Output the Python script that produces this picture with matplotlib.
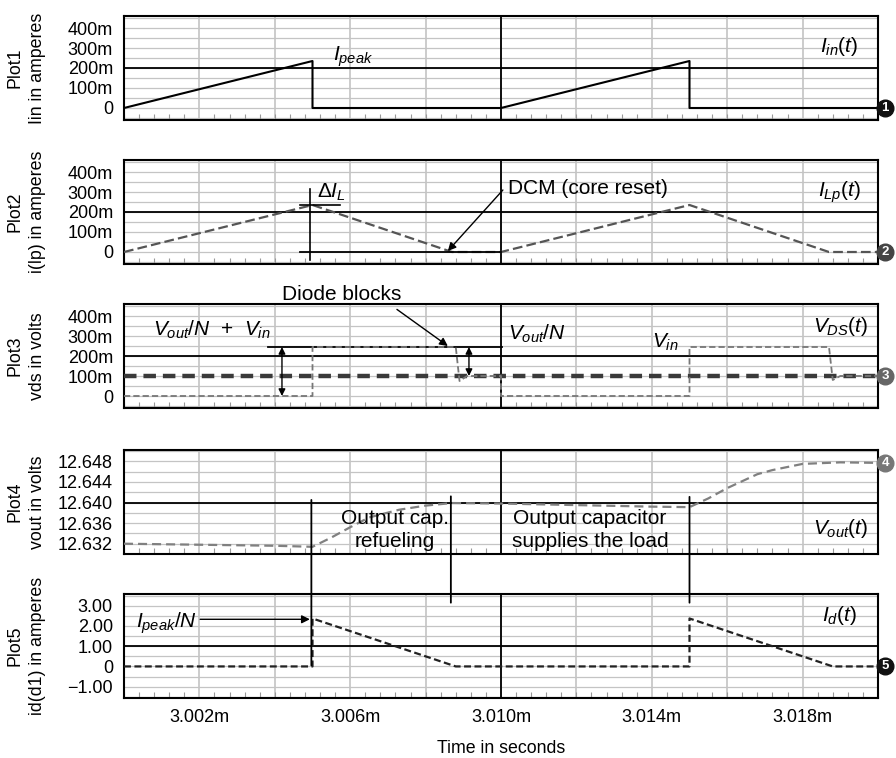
import numpy as np
import matplotlib
matplotlib.use("Agg")
import matplotlib.pyplot as plt
from matplotlib.patches import ConnectionPatch

plt.rcParams["font.family"] = ["Liberation Sans", "DejaVu Sans"]
plt.rcParams["mathtext.fontset"] = "custom"
plt.rcParams["mathtext.rm"] = "Liberation Sans"
plt.rcParams["mathtext.it"] = "Liberation Sans:italic"
plt.rcParams["lines.scale_dashes"] = False

# time axis in ms
t_in = [3.000, 3.005, 3.005, 3.010, 3.015, 3.015, 3.020]
i_in = [0.0, 0.235, 0.0, 0.0, 0.235, 0.0, 0.0]

t_lp = [3.000, 3.005, 3.0087, 3.010, 3.015, 3.0187, 3.020]
i_lp = [0.0, 0.235, 0.0, 0.0, 0.235, 0.0, 0.0]

t_ds = [3.000, 3.005, 3.005, 3.0088, 3.0089, 3.0091, 3.010, 3.010,
        3.015, 3.015, 3.0187, 3.0188, 3.0190, 3.020]
v_ds = [0.0, 0.0, 0.245, 0.245, 0.075, 0.10, 0.10, 0.0,
        0.0, 0.245, 0.245, 0.08, 0.10, 0.10]
t_vin = [3.000, 3.020]
v_in = [0.10, 0.10]

t_out = [3.000, 3.002, 3.004, 3.005, 3.0055, 3.006, 3.0065, 3.0073, 3.008,
         3.0087, 3.010, 3.012, 3.014, 3.015, 3.0155, 3.016, 3.0168, 3.0172,
         3.018, 3.019, 3.020]
v_out = [12.6320, 12.6318, 12.6316, 12.6314, 12.6332, 12.6352, 12.6371,
         12.6386, 12.6394, 12.6399, 12.6398, 12.6395, 12.6392, 12.6391,
         12.6408, 12.6428, 12.6455, 12.6463, 12.6475, 12.6478, 12.6477]

t_d = [3.000, 3.005, 3.005, 3.0088, 3.015, 3.015, 3.0188, 3.020]
i_d = [0.0, 0.0, 2.37, 0.0, 0.0, 2.37, 0.0, 0.0]

x_grid = [3.000, 3.002, 3.004, 3.006, 3.008, 3.010, 3.012, 3.014, 3.016, 3.018, 3.020]
x_labels = ["3.002m", "3.006m", "3.010m", "3.014m", "3.018m"]
x_label_pos = [3.002, 3.006, 3.010, 3.014, 3.018]

milli_ticks = [0.0, 0.1, 0.2, 0.3, 0.4]
milli_labels = ["0", "100m", "200m", "300m", "400m"]
vout_ticks = [12.632, 12.636, 12.640, 12.644, 12.648]
vout_labels = ["12.632", "12.636", "12.640", "12.644", "12.648"]
id_ticks = [-1.0, 0.0, 1.0, 2.0, 3.0]
id_labels = ["\u22121.00", "0", "1.00", "2.00", "3.00"]

W, H = 896, 758
fig = plt.figure(figsize=(W / 100, H / 100), dpi=100)

tops = [16, 160, 304, 450, 594]
axes = []
for top in tops:
    ax = fig.add_axes([124 / W, 1 - (top + 104) / H, 754 / W, 104 / H])
    axes.append(ax)
ax1, ax2, ax3, ax4, ax5 = axes

GRID = "#c4c4c4"
TICK_FS = 13
NOTE_FS = 15
SIG_FS = 15


def style(ax, yticks, ylabels, ylim, ystep, center, title, bottom=False):
    ax.set_xlim(3.000, 3.020)
    ax.set_ylim(*ylim)
    for v in x_grid:
        ax.axvline(v, color=GRID, lw=1.2, zorder=0)
    for v in np.arange(ylim[0] - ylim[0] % ystep, ylim[1], ystep):
        ax.axhline(v, color=GRID, lw=0.9, zorder=0)
    ax.axvline(3.010, color="black", lw=1.3, zorder=1)
    ax.axhline(center, color="black", lw=1.3, zorder=1)
    ax.set_yticks(yticks)
    ax.set_yticklabels(ylabels)
    ax.set_xticks(x_label_pos)
    ax.set_xticklabels(x_labels if bottom else [])
    ax.set_xticks(np.arange(3.000, 3.0201, 0.0004), minor=True)
    ax.tick_params(axis="both", which="major", length=0, labelsize=TICK_FS, pad=8)
    ax.tick_params(axis="x", which="minor", direction="in", length=4,
                   width=0.8, color="#999999", bottom=True, top=False)
    ax.tick_params(axis="y", which="minor", length=0)
    for s in ax.spines.values():
        s.set_linewidth(1.5)
    bb = ax.get_position()
    yc = (bb.y0 + bb.y1) / 2
    fig.text(15 / W, yc, title[0], rotation=90, ha="center", va="center", fontsize=12.8)
    fig.text(38 / W, yc, title[1], rotation=90, ha="center", va="center", fontsize=12.8)


def badge(ax, y, n, color):
    ax.plot([3.02019], [y], "o", ms=12, mfc=color, mec=color, clip_on=False, zorder=10)
    ax.text(3.02019, y, str(n), color="white", fontsize=9.5, fontweight="bold",
            ha="center", va="center", clip_on=False, zorder=11)


ARROW = dict(arrowstyle="-|>", color="black", lw=1.0, mutation_scale=12,
             shrinkA=0, shrinkB=0)
DARROW = dict(arrowstyle="<|-|>", color="black", lw=1.0, mutation_scale=10,
              shrinkA=0, shrinkB=0)

# Plot1: input current
style(ax1, milli_ticks, milli_labels, (-0.06, 0.46), 0.05, 0.2,
      ("Plot1", "Iin in amperes"))
ax1.plot(t_in, i_in, color="black", lw=1.5, zorder=3)
ax1.text(3.00554, 0.255, "$I_{peak}$", fontsize=SIG_FS, ha="left", va="center")
ax1.text(3.01846, 0.31, "$I_{in}(t)$", fontsize=SIG_FS, ha="left", va="center")
badge(ax1, 0.0, 1, "#111111")

# Plot2: primary inductor current
style(ax2, milli_ticks, milli_labels, (-0.06, 0.46), 0.05, 0.2,
      ("Plot2", "i(lp) in amperes"))
ax2.plot(t_lp, i_lp, color="#555555", lw=1.6, dashes=(7, 3), zorder=3)
ax2.plot([3.00493, 3.00493], [0.316, -0.04], color="black", lw=1.2, zorder=4)
ax2.plot([3.00467, 3.00573], [0.235, 0.235], color="black", lw=1.2, zorder=4)
ax2.plot([3.00467, 3.010], [0.0, 0.0], color="black", lw=1.3, zorder=4)
ax2.text(3.00512, 0.30, r"$\mathit{\Delta} I_L$", fontsize=SIG_FS, ha="left", va="center")
ax2.text(3.01019, 0.316, "DCM (core reset)", fontsize=NOTE_FS, ha="left", va="center")
ax2.annotate("", xy=(3.00859, 0.005), xytext=(3.01005, 0.31), arrowprops=ARROW)
ax2.text(3.01841, 0.30, "$I_{Lp}(t)$", fontsize=SIG_FS, ha="left", va="center")
badge(ax2, 0.0, 2, "#444444")

# Plot3: drain-source voltage
style(ax3, milli_ticks, milli_labels, (-0.06, 0.46), 0.05, 0.2,
      ("Plot3", "vds in volts"))
ax3.plot(t_vin, v_in, color="#3a3a3a", lw=3.2, dashes=(9, 5), zorder=3)
ax3.plot(t_ds, v_ds, color="#777777", lw=1.3, dashes=(4.5, 2.2), zorder=4)
ax3.plot([3.00382, 3.01003], [0.245, 0.245], color="black", lw=1.3, zorder=3)
ax3.annotate("", xy=(3.00419, 0.0), xytext=(3.00419, 0.245), arrowprops=DARROW)
ax3.annotate("", xy=(3.00915, 0.10), xytext=(3.00915, 0.245), arrowprops=DARROW)
ax3.text(3.00077, 0.333, "$V_{out}/N$  +  $V_{in}$", fontsize=SIG_FS, ha="left", va="center")
ax3.text(3.00578, 0.51, "Diode blocks", fontsize=NOTE_FS, ha="center", va="center",
         clip_on=False)
ax3.annotate("", xy=(3.00859, 0.25), xytext=(3.00724, 0.433), arrowprops=ARROW,
             annotation_clip=False)
ax3.text(3.01019, 0.31, "$V_{out}/N$", fontsize=SIG_FS, ha="left", va="center")
ax3.text(3.01400, 0.27, "$V_{in}$", fontsize=SIG_FS, ha="left", va="center")
ax3.text(3.01828, 0.35, "$V_{DS}(t)$", fontsize=SIG_FS, ha="left", va="center")
badge(ax3, 0.10, 3, "#666666")

# Plot4: output voltage
style(ax4, vout_ticks, vout_labels, (12.6300, 12.6502), 0.002, 12.640,
      ("Plot4", "vout in volts"))
ax4.plot(t_out, v_out, color="#808080", lw=1.6, dashes=(6.5, 3.6), zorder=3)
ax4.text(3.00719, 12.6347, "Output cap.\nrefueling", fontsize=NOTE_FS,
         ha="center", va="center", linespacing=1.25, zorder=5)
ax4.text(3.01236, 12.6347, "Output capacitor\nsupplies the load", fontsize=NOTE_FS,
         ha="center", va="center", linespacing=1.25, zorder=5)
ax4.text(3.01828, 12.6349, "$V_{out}(t)$", fontsize=SIG_FS, ha="left", va="center")
badge(ax4, 12.6477, 4, "#777777")

# Plot5: diode current
style(ax5, id_ticks, id_labels, (-1.56, 3.58), 0.5, 1.0,
      ("Plot5", "id(d1) in amperes"), bottom=True)
ax5.plot(t_d, i_d, color="#222222", lw=1.6, dashes=(5, 2.5), zorder=3)
ax5.text(3.00032, 2.13, "$I_{peak}/N$", fontsize=SIG_FS, ha="left", va="center")
ax5.annotate("", xy=(3.00493, 2.33), xytext=(3.00202, 2.33), arrowprops=ARROW)
ax5.text(3.01851, 2.52, "$I_d(t)$", fontsize=SIG_FS, ha="left", va="center")
badge(ax5, 0.0, 5, "#111111")
ax5.set_xlabel("Time in seconds", fontsize=12.8, labelpad=10)

# markers linking the charge/discharge phases of Vout and Id
for t0, ya, yb in [(3.00497, 12.6405, 0.05), (3.00867, 12.6412, 3.15),
                   (3.01500, 12.6411, 3.15)]:
    con = ConnectionPatch(xyA=(t0, ya), coordsA=ax4.transData,
                          xyB=(t0, yb), coordsB=ax5.transData,
                          color="black", lw=1.3, zorder=6)
    fig.add_artist(con)

fig.savefig("out.png", dpi=100)
